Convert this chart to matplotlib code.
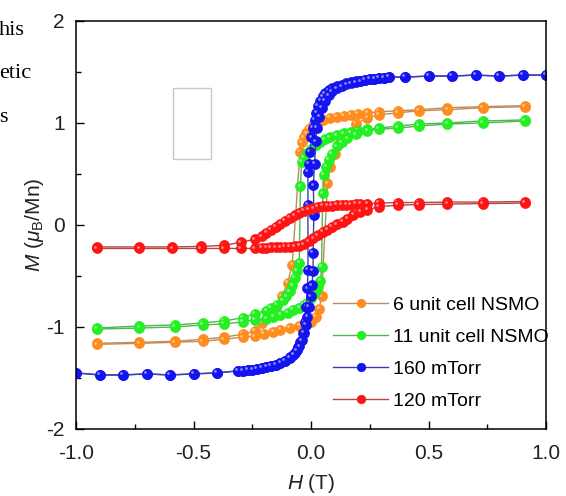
import matplotlib
matplotlib.use("Agg")
import matplotlib.pyplot as plt
from matplotlib.patches import Rectangle
from matplotlib.transforms import offset_copy

plt.rcParams["font.family"] = ["Liberation Sans", "DejaVu Sans"]
plt.rcParams["mathtext.fontset"] = "custom"
plt.rcParams["mathtext.rm"] = "Liberation Sans"
plt.rcParams["mathtext.it"] = "Liberation Sans:italic"

# M-H loops, field sweep down (+H -> -H) and back up (-H -> +H)
nsmo6_h_down = [0.91, 0.73, 0.58, 0.46, 0.37, 0.29, 0.24, 0.20, 0.17, 0.14, 0.11, 0.08, 0.05, 0.03,
                0.01, -0.01, -0.02, -0.03, -0.04, -0.047, -0.08, -0.10, -0.125, -0.15, -0.18,
                -0.21, -0.24, -0.29, -0.37, -0.46, -0.58, -0.73, -0.91]
nsmo6_m_down = [1.17, 1.16, 1.15, 1.13, 1.12, 1.11, 1.10, 1.09, 1.08, 1.07, 1.06, 1.05, 1.03, 1.01,
                0.98, 0.94, 0.90, 0.86, 0.81, 0.72, -0.39, -0.57, -0.70, -0.80, -0.88,
                -0.96, -1.04, -1.07, -1.10, -1.12, -1.14, -1.15, -1.16]
nsmo6_h_up = [-0.91, -0.73, -0.58, -0.46, -0.37, -0.29, -0.24, -0.20, -0.16, -0.13, -0.09, -0.05,
              -0.02, 0.0, 0.02, 0.035, 0.045, 0.07, 0.08, 0.10, 0.115, 0.15, 0.19, 0.24, 0.29,
              0.37, 0.46, 0.58, 0.73, 0.91]
nsmo6_m_up = [-1.17, -1.16, -1.15, -1.14, -1.12, -1.10, -1.09, -1.07, -1.05, -1.03, -1.01, -0.99,
              -0.97, -0.95, -0.90, -0.82, -0.70, 0.41, 0.57, 0.70, 0.78, 0.88, 0.99, 1.05, 1.08,
              1.10, 1.12, 1.13, 1.15, 1.16]

nsmo11_h_down = [0.91, 0.73, 0.58, 0.46, 0.37, 0.29, 0.24, 0.20, 0.17, 0.14, 0.11, 0.08, 0.06, 0.04,
                 0.02, 0.0, -0.015, -0.03, -0.04, -0.045, -0.05, -0.06, -0.07, -0.08, -0.09,
                 -0.105, -0.12, -0.145, -0.17, -0.19, -0.24, -0.29, -0.37, -0.46, -0.58, -0.73, -0.91]
nsmo11_m_down = [1.03, 1.02, 1.00, 0.99, 0.97, 0.95, 0.94, 0.92, 0.91, 0.90, 0.88, 0.86, 0.84, 0.81,
                 0.78, 0.75, 0.71, 0.66, 0.62, 0.38, -0.37, -0.45, -0.52, -0.59, -0.65,
                 -0.70, -0.74, -0.78, -0.81, -0.84, -0.87, -0.91, -0.94, -0.96, -0.98, -0.99, -1.01]
nsmo11_h_up = [-0.91, -0.73, -0.58, -0.46, -0.37, -0.29, -0.24, -0.19, -0.16, -0.13, -0.10, -0.077,
               -0.05, -0.03, -0.017, 0.0, 0.017, 0.03, 0.04, 0.045, 0.05, 0.055, 0.065, 0.075,
               0.09, 0.11, 0.13, 0.155, 0.19, 0.24, 0.29, 0.37, 0.46, 0.58, 0.73, 0.91]
nsmo11_m_up = [-1.02, -1.01, -1.00, -0.98, -0.97, -0.95, -0.93, -0.92, -0.90, -0.88, -0.86, -0.83,
               -0.81, -0.78, -0.76, -0.72, -0.67, -0.61, -0.55, -0.41, 0.31, 0.49, 0.57, 0.64,
               0.70, 0.77, 0.81, 0.85, 0.89, 0.92, 0.94, 0.95, 0.97, 0.99, 1.00, 1.02]

mt160_h_down = [1.0, 0.9, 0.8, 0.7, 0.6, 0.5, 0.4, 0.33, 0.31, 0.29, 0.27, 0.25, 0.23, 0.21, 0.19,
                0.17, 0.15, 0.13, 0.11, 0.09, 0.075, 0.06, 0.05, 0.04, 0.03, 0.022, 0.015, 0.008,
                0.002, -0.004, -0.009, -0.013, -0.013, -0.013, -0.015, -0.02, -0.025, -0.035,
                -0.045, -0.055, -0.07, -0.09, -0.11, -0.13, -0.15, -0.17, -0.19, -0.21, -0.23,
                -0.25, -0.27, -0.29, -0.31, -0.4, -0.5, -0.6, -0.7, -0.8, -0.9, -1.0]
mt160_m_down = [1.47, 1.47, 1.46, 1.47, 1.46, 1.46, 1.45, 1.45, 1.44, 1.44, 1.43, 1.43, 1.42, 1.41,
                1.41, 1.40, 1.39, 1.37, 1.36, 1.34, 1.32, 1.29, 1.26, 1.22, 1.17, 1.10, 1.03, 0.95,
                0.86, 0.72, 0.60, 0.52, 0.20, -0.44, -0.62, -0.80, -0.95, -1.06,
                -1.15, -1.20, -1.25, -1.29, -1.33, -1.35, -1.37, -1.38, -1.39, -1.40, -1.41,
                -1.42, -1.42, -1.43, -1.43, -1.45, -1.46, -1.47, -1.46, -1.47, -1.47, -1.45]
mt160_h_up = [-1.0, -0.9, -0.8, -0.7, -0.6, -0.5, -0.4, -0.31, -0.29, -0.27, -0.25, -0.23, -0.21,
              -0.19, -0.17, -0.15, -0.13, -0.11, -0.09, -0.075, -0.06, -0.05, -0.04, -0.03, -0.022,
              -0.015, -0.008, -0.002, 0.004, 0.009, 0.009, 0.012, 0.010, 0.015, 0.02, 0.025, 0.035,
              0.045, 0.06, 0.075, 0.09, 0.11, 0.13, 0.15, 0.17, 0.19, 0.21, 0.23, 0.25, 0.27,
              0.29, 0.31, 0.33, 0.4, 0.5, 0.6, 0.7, 0.8, 0.9, 1.0]
mt160_m_up = [-1.45, -1.47, -1.47, -1.46, -1.47, -1.46, -1.45, -1.43, -1.43, -1.42, -1.42, -1.41,
              -1.40, -1.39, -1.38, -1.37, -1.35, -1.33, -1.30, -1.27, -1.23, -1.19, -1.13, -1.06,
              -0.98, -0.90, -0.80, -0.70, -0.59, -0.45, -0.27, 0.10, 0.39, 0.60, 0.82, 0.95, 1.06,
              1.15, 1.22, 1.27, 1.31, 1.34, 1.36, 1.38, 1.39, 1.40, 1.41, 1.42, 1.43, 1.43,
              1.44, 1.44, 1.45, 1.45, 1.46, 1.46, 1.47, 1.46, 1.47, 1.47]

mt120_h_down = [0.91, 0.73, 0.58, 0.46, 0.37, 0.29, 0.24, 0.21, 0.19, 0.17, 0.15, 0.13, 0.11, 0.09,
                0.07, 0.05, 0.03, 0.01, -0.01, -0.03, -0.05, -0.07, -0.09, -0.11, -0.13, -0.15,
                -0.17, -0.19, -0.21, -0.24, -0.30, -0.37, -0.47, -0.59, -0.73, -0.91]
mt120_m_down = [0.23, 0.225, 0.225, 0.22, 0.22, 0.215, 0.21, 0.205, 0.205, 0.20, 0.20, 0.20, 0.195,
                0.19, 0.19, 0.185, 0.175, 0.165, 0.155, 0.14, 0.12, 0.095, 0.07, 0.04, 0.01, -0.02,
                -0.05, -0.08, -0.11, -0.14, -0.17, -0.20, -0.21, -0.215, -0.215, -0.215]
mt120_h_up = [-0.91, -0.73, -0.59, -0.47, -0.37, -0.30, -0.24, -0.21, -0.19, -0.17, -0.15, -0.13,
              -0.11, -0.09, -0.07, -0.05, -0.03, -0.01, 0.01, 0.03, 0.05, 0.07, 0.09, 0.11, 0.135,
              0.155, 0.18, 0.21, 0.24, 0.29, 0.37, 0.46, 0.58, 0.73, 0.91]
mt120_m_up = [-0.23, -0.23, -0.23, -0.23, -0.23, -0.23, -0.23, -0.225, -0.225, -0.22, -0.22,
              -0.22, -0.215, -0.215, -0.21, -0.205, -0.19, -0.16, -0.13, -0.10, -0.07, -0.045,
              -0.02, 0.005, 0.03, 0.06, 0.10, 0.13, 0.15, 0.18, 0.195, 0.20, 0.205, 0.21, 0.215]

labels = ["6 unit cell NSMO", "11 unit cell NSMO", "160 mTorr", "120 mTorr"]
marker_colors = ["#FF8C1E", "#22F022", "#1414F0", "#FF1414"]
line_colors = ["#C08A5A", "#4DB84D", "#3C3CB4", "#B84444"]
loops = [
    (nsmo6_h_down, nsmo6_m_down, nsmo6_h_up, nsmo6_m_up),
    (nsmo11_h_down, nsmo11_m_down, nsmo11_h_up, nsmo11_m_up),
    (mt160_h_down, mt160_m_down, mt160_h_up, mt160_m_up),
    (mt120_h_down, mt120_m_down, mt120_h_up, mt120_m_up),
]

xticks = [-1.0, -0.5, 0.0, 0.5, 1.0]
xticklabels = ["-1.0", "-0.5", "0.0", "0.5", "1.0"]
yticks = [-2, -1, 0, 1, 2]
yticklabels = ["-2", "-1", "0", "1", "2"]

fig = plt.figure(figsize=(5.66, 4.96), dpi=100)
ax = fig.add_axes([76 / 566, 67 / 496, 470 / 566, 408 / 496])

# little white glint on each bead, nudged up-left
glint = offset_copy(ax.transData, fig=fig, x=-1.2, y=1.2, units="points")

handles = []
for (hd, md, hu, mu), lab, mc, lc in zip(loops, labels, marker_colors, line_colors):
    for h, m in ((hd, md), (hu, mu)):
        ln, = ax.plot(h, m, "-o", color=lc, lw=1.0, ms=7.2, mfc=mc, mec=mc, mew=0.5,
                      label=lab)
        ax.plot(h, m, "o", ms=2.0, mfc="white", mec="none", alpha=0.5, transform=glint)
    handles.append(ln)

ax.set_xlim(-1.0, 1.0)
ax.set_ylim(-2, 2)
ax.set_xticks(xticks)
ax.set_xticklabels(xticklabels)
ax.set_yticks(yticks)
ax.set_yticklabels(yticklabels)
ax.set_xticks([-0.75, -0.25, 0.25, 0.75], minor=True)
ax.set_yticks([-1.5, -0.5, 0.5, 1.5], minor=True)
ax.tick_params(which="both", direction="in", top=False, right=False, width=1.0,
               labelsize=15, labelcolor="#222222")
ax.tick_params(which="major", length=6)
ax.tick_params(which="minor", length=3.5)
ax.tick_params(axis="x", which="major", pad=11)
ax.tick_params(axis="y", which="major", pad=8)
for sp in ax.spines.values():
    sp.set_linewidth(1.1)

ax.set_xlabel(r"$\mathit{H}$ (T)", fontsize=15, color="#222222", labelpad=6)
ax.set_ylabel(r"$\mathit{M}$ ($\mu_\mathrm{B}$/Mn)", fontsize=15, color="#222222", labelpad=0)

ax.legend(handles, labels, loc="upper left", bbox_to_anchor=(333 / 566, 1 - 296 / 496),
          bbox_transform=fig.transFigure, frameon=False, fontsize=14, handlelength=2.85,
          handletextpad=0.26, labelspacing=0.75, borderpad=0, borderaxespad=0, markerscale=0.85)

# page fragments around the figure
fig.add_artist(Rectangle((173 / 566, 1 - 159 / 496), 38 / 566, 71 / 496, fill=False,
                         ec="#C8C8C8", lw=1.0, transform=fig.transFigure))
for txt, x, y in [("his", 25, 35), ("etic", 31, 78), ("s", 8, 122)]:
    fig.text(x / 566, 1 - y / 496, txt, ha="right", va="baseline", fontsize=16,
             family="Liberation Serif")

fig.savefig("out.png", dpi=100)
